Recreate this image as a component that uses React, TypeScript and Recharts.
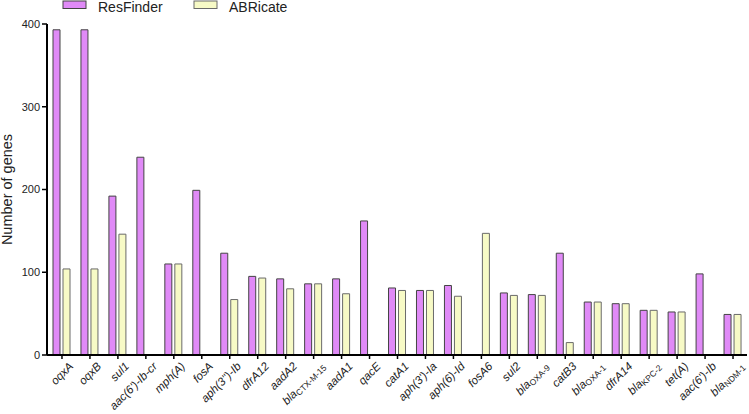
import React from "react";
import { BarChart, Bar, XAxis, YAxis, Label } from "recharts";

const genes = [
  "oqxA", "oqxB", "sul1", "aac(6')-Ib-cr", "mph(A)", "fosA", "aph(3'')-Ib", "dfrA12", "aadA2",
  "blaCTX-M-15", "aadA1", "qacE", "catA1", "aph(3')-Ia", "aph(6)-Id", "fosA6", "sul2", "blaOXA-9",
  "catB3", "blaOXA-1", "dfrA14", "blaKPC-2", "tet(A)", "aac(6')-Ib", "blaNDM-1"
];
const resFinder = [393, 393, 192, 239, 110, 199, 123, 95, 92, 86, 92, 162, 81, 78, 84, 0, 75, 73, 123, 64, 62, 54, 52, 98, 49];
const abricate = [104, 104, 146, 0, 110, 0, 67, 93, 80, 86, 74, 0, 78, 78, 71, 147, 72, 72, 15, 64, 62, 54, 52, 0, 49];
const yTicks = [0, 100, 200, 300, 400];

const seriesNames = ["ResFinder", "ABRicate"];
const seriesFills = ["#E08AF7", "#F7FAC6"];
const seriesStrokes = ["#444", "#6a6a6a"];

const FONT = "'Liberation Sans', Arial, sans-serif";

const data = genes.map((g, i) => ({ gene: g, ResFinder: resFinder[i], ABRicate: abricate[i] }));

function GeneTick({ x, y, payload }: any) {
  const name: string = payload.value;
  const isBla = name.startsWith("bla");
  return (
    <g transform={`translate(${x + 12},${y + 6})`}>
      <text transform="rotate(-45)" textAnchor="end" fontSize={11.5} fontStyle="italic" fill="#222" fontFamily={FONT}>
        {isBla ? (
          <>
            <tspan>bla</tspan>
            <tspan fontStyle="normal" fontSize={8.5} dy={2}>{name.slice(3)}</tspan>
          </>
        ) : (
          name
        )}
      </text>
    </g>
  );
}

function TopLegend() {
  return (
    <svg width={749} height={16} style={{ position: "absolute", left: 0, top: 0, display: "block" }}>
      {seriesNames.map((n, i) => {
        const x0 = 63 + i * 131;
        return (
          <g key={n}>
            <rect x={x0} y={1} width={23} height={7.5} fill={seriesFills[i]} stroke={seriesStrokes[i]} strokeWidth={1} />
            <text x={x0 + 35} y={12} fontSize={14} fill="#222" fontFamily={FONT}>{n}</text>
          </g>
        );
      })}
    </svg>
  );
}

export default function App() {
  return (
    <div style={{ position: "absolute", left: 0, top: 0, width: 749, height: 414, background: "#fff", fontFamily: FONT }}>
      <BarChart
        width={749}
        height={414}
        data={data}
        margin={{ top: 24, right: 2, bottom: 0, left: 0 }}
        barSize={7}
        barGap={3}
      >
        <XAxis
          dataKey="gene"
          interval={0}
          height={59}
          padding={{ left: 1, right: 0 }}
          tick={<GeneTick />}
          tickSize={4}
          tickMargin={2}
          axisLine={{ stroke: "#000", strokeWidth: 2 }}
          tickLine={{ stroke: "#000", strokeWidth: 1.5 }}
        />
        <YAxis
          width={47}
          domain={[0, 400]}
          ticks={yTicks}
          tickSize={5}
          tickMargin={2}
          axisLine={{ stroke: "#000", strokeWidth: 2 }}
          tickLine={{ stroke: "#000", strokeWidth: 1.5 }}
          tick={{ fontSize: 11, fill: "#222", fontFamily: FONT }}
        >
          <Label
            value="Number of genes"
            angle={-90}
            position="center"
            dx={-17}
            style={{ fontSize: 14.5, fill: "#222", fontFamily: FONT }}
          />
        </YAxis>
        {seriesNames.map((n, i) => (
          <Bar
            key={n}
            dataKey={n}
            fill={seriesFills[i]}
            stroke={seriesStrokes[i]}
            strokeWidth={1}
            isAnimationActive={false}
          />
        ))}
      </BarChart>
      <TopLegend />
    </div>
  );
}
